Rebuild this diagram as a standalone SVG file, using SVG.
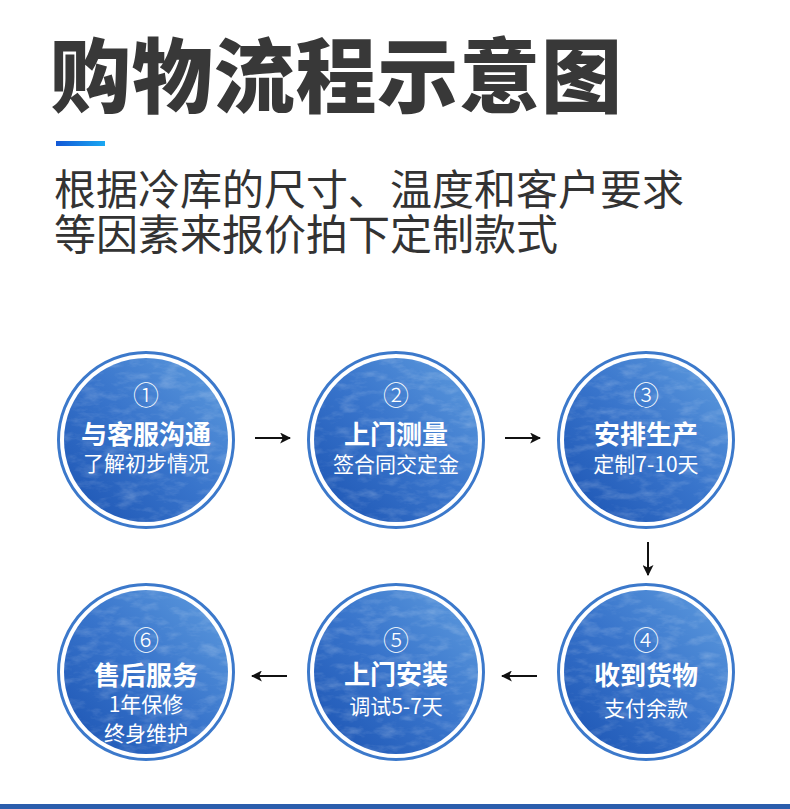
<svg xmlns="http://www.w3.org/2000/svg" width="790" height="809" viewBox="0 0 790 809">
<style>
.ring{fill:none;stroke:#3c79cb;stroke-width:3}
.disc{fill:url(#blue)}
.tex{fill:#fff;filter:url(#noise);opacity:0.22}
.num{font-family:"Noto Sans CJK SC","Noto Sans",sans-serif;font-size:26px;fill:#fff;text-anchor:middle;dominant-baseline:central;font-weight:300}
.t1{font-family:"Noto Sans CJK SC","Noto Sans",sans-serif;font-size:26px;fill:#fff;text-anchor:middle;dominant-baseline:central;font-weight:700}
.t2{font-family:"Noto Sans CJK SC","Noto Sans",sans-serif;font-size:21px;fill:#fff;text-anchor:middle;dominant-baseline:central;font-weight:400}
.head{font-family:"Noto Sans CJK SC",sans-serif;font-size:81px;font-weight:900;fill:#383838}
.sub{font-family:"Noto Sans CJK SC",sans-serif;font-size:42px;font-weight:400;fill:#333}
.arr{stroke:#111;stroke-width:2;fill:none;marker-end:url(#ah)}
</style>
<defs>
<linearGradient id="blue" x1="1" y1="0" x2="0" y2="1">
<stop offset="0" stop-color="#5f9cde"/>
<stop offset="0.5" stop-color="#3874cb"/>
<stop offset="1" stop-color="#1b53b2"/>
</linearGradient>
<linearGradient id="bar" x1="0" y1="0" x2="1" y2="0">
<stop offset="0" stop-color="#1358d6"/>
<stop offset="1" stop-color="#1aa8f2"/>
</linearGradient>
<filter id="noise" x="0" y="0" width="100%" height="100%">
<feTurbulence type="fractalNoise" baseFrequency="0.05 0.11" numOctaves="4" seed="7" result="n"/>
<feColorMatrix in="n" type="matrix" values="0 0 0 0 1  0 0 0 0 1  0 0 0 0 1  2 0 0 0 -0.9" result="w"/>
<feComposite in="w" in2="SourceAlpha" operator="in"/>
</filter>
<marker id="ah" viewBox="0 0 10 10" refX="9" refY="5" markerWidth="5.5" markerHeight="5.5" orient="auto" markerUnits="strokeWidth">
<path d="M0,0 L10,5 L0,10 L2.5,5 Z" fill="#111"/>
</marker>
</defs>
<rect width="790" height="809" fill="#fff"/>
<g id="title">
<text class="head" x="50" y="106" textLength="572" lengthAdjust="spacing">购物流程示意图</text>
<rect x="56" y="141" width="49" height="5" fill="url(#bar)"/>
</g>
<g id="subtitle">
<text class="sub" x="54" y="205">根据冷库的尺寸、温度和客户要求</text>
<text class="sub" x="54" y="250">等因素来报价拍下定制款式</text>
</g>
<g id="connectors">
<line class="arr" x1="255" y1="438" x2="290" y2="438"/>
<line class="arr" x1="505" y1="438" x2="540" y2="438"/>
<line class="arr" x1="648" y1="542" x2="648" y2="575"/>
<line class="arr" x1="537" y1="676" x2="502" y2="676"/>
<line class="arr" x1="287" y1="676" x2="252" y2="676"/>
</g>
<g id="step1">
<circle class="ring" cx="146" cy="440" r="87.5"/>
<circle class="disc" cx="146" cy="440" r="82"/>
<circle class="tex" cx="146" cy="440" r="82"/>
<text class="num" x="146" y="393">①</text>
<text class="t1" x="146" y="432">与客服沟通</text>
<text class="t2" x="146" y="462">了解初步情况</text>
</g>
<g id="step2">
<circle class="ring" cx="396" cy="440" r="87.5"/>
<circle class="disc" cx="396" cy="440" r="82"/>
<circle class="tex" cx="396" cy="440" r="82"/>
<text class="num" x="396" y="393">②</text>
<text class="t1" x="396" y="432">上门测量</text>
<text class="t2" x="396" y="463">签合同交定金</text>
</g>
<g id="step3">
<circle class="ring" cx="646" cy="440" r="87.5"/>
<circle class="disc" cx="646" cy="440" r="82"/>
<circle class="tex" cx="646" cy="440" r="82"/>
<text class="num" x="646" y="393">③</text>
<text class="t1" x="646" y="432">安排生产</text>
<text class="t2" x="646" y="463">定制7-10天</text>
</g>
<g id="step4">
<circle class="ring" cx="646" cy="672" r="87.5"/>
<circle class="disc" cx="646" cy="672" r="82"/>
<circle class="tex" cx="646" cy="672" r="82"/>
<text class="num" x="646" y="638">④</text>
<text class="t1" x="646" y="673">收到货物</text>
<text class="t2" x="646" y="707">支付余款</text>
</g>
<g id="step5">
<circle class="ring" cx="396" cy="672" r="87.5"/>
<circle class="disc" cx="396" cy="672" r="82"/>
<circle class="tex" cx="396" cy="672" r="82"/>
<text class="num" x="396" y="638">⑤</text>
<text class="t1" x="396" y="672">上门安装</text>
<text class="t2" x="396" y="705">调试5-7天</text>
</g>
<g id="step6">
<circle class="ring" cx="146" cy="672" r="87.5"/>
<circle class="disc" cx="146" cy="672" r="82"/>
<circle class="tex" cx="146" cy="672" r="82"/>
<text class="num" x="146" y="638">⑥</text>
<text class="t1" x="146" y="673">售后服务</text>
<text class="t2" x="146" y="703">1年保修</text>
<text class="t2" x="146" y="732">终身维护</text>
</g>
<rect x="0" y="804" width="790" height="5" fill="#2b5dac"/>
</svg>
